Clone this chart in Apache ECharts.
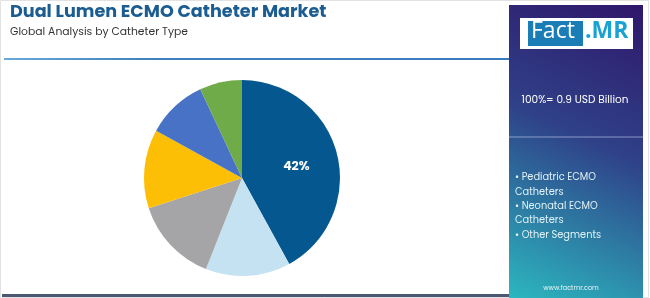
<!DOCTYPE html>
<html>
<head>
<meta charset="utf-8">
<script src="https://cdn.jsdelivr.net/npm/echarts@6/dist/echarts.min.js"></script>
<style>
html,body{margin:0;padding:0;background:#fff;}
#c{width:650px;height:298px;}
</style>
</head>
<body>
<div id="c"></div>
<script>
const categories = ['Adult ECMO Catheters', 'Pediatric ECMO Catheters', 'Neonatal ECMO Catheters', 'Segment 4', 'Segment 5', 'Other Segments'];
const shares = [42, 14, 14, 13, 10, 7];
const sliceColors = ['#04588f', '#c5e2f3', '#a5a5a7', '#fdbf05', '#4772c5', '#6fab48'];
const legendItems = ['• Pediatric ECMO', 'Catheters', '• Neonatal ECMO', 'Catheters', '• Other Segments'];
const titleText = 'Dual Lumen ECMO Catheter Market';
const subtitleText = 'Global Analysis by Catheter Type';
const totalText = '100%= 0.9 USD Billion';

const chart = echarts.init(document.getElementById('c'), null, {renderer: 'canvas'});
const font = 'Poppins, "Open Sans", "Noto Sans", sans-serif';

const legendGraphics = legendItems.map((t, i) => ({
  type: 'text', left: 515, top: 173 + i * 14.3,
  style: {text: t, fill: '#dff1f6', font: '9.8px ' + font}
}));

chart.setOption({
  animation: false,
  backgroundColor: '#fff',
  graphic: [
    {type: 'rect', shape: {x: 0.5, y: 0.5, width: 648, height: 297}, style: {fill: 'none', stroke: '#e2e2e2', lineWidth: 1}},
    {type: 'text', left: 10, top: 4, style: {text: titleText, fill: '#1b5c91', font: 'bold 17.6px ' + font}},
    {type: 'text', left: 10, top: 27, style: {text: subtitleText, fill: '#333', font: '10.8px ' + font}},
    {type: 'rect', shape: {x: 4, y: 58, width: 506, height: 2},
      style: {fill: new echarts.graphic.LinearGradient(0, 0, 1, 0, [{offset: 0, color: '#6aa8d8'}, {offset: 0.3, color: '#3f80bd'}, {offset: 1, color: '#3a7cc0'}])}},
    {type: 'rect', shape: {x: 2, y: 294, width: 507, height: 3}, style: {fill: '#4b5872'}},
    {type: 'rect', shape: {x: 509, y: 5, width: 134, height: 293},
      style: {fill: new echarts.graphic.LinearGradient(1, 0, 0, 1, [{offset: 0, color: '#2f176a'}, {offset: 0.45, color: '#2f4188'}, {offset: 1, color: '#2cb7bf'}])}},
    {type: 'rect', shape: {x: 509, y: 136.5, width: 134, height: 1}, style: {fill: 'rgba(200,210,240,0.6)'}},
    {type: 'rect', shape: {x: 520, y: 18, width: 113, height: 31}, style: {fill: '#fff'}},
    {type: 'rect', shape: {x: 528, y: 21, width: 55, height: 25}, style: {fill: '#1a7db6'}},
    {type: 'text', left: 531, top: 20, style: {text: 'Fact', fill: '#fff', font: '23px "Open Sans", sans-serif'}},
    {type: 'text', left: 585, top: 20, style: {text: '.MR', fill: '#1aa2d3', font: 'bold 23px "Open Sans", sans-serif'}},
    {type: 'text', x: 575, y: 100, style: {text: totalText, fill: '#fff', font: '10.5px ' + font, textAlign: 'center', textVerticalAlign: 'middle'}},
    ...legendGraphics,
    {type: 'text', x: 571, y: 288, style: {text: 'www.factmr.com', fill: '#e6f4f8', font: '6.5px ' + font, textAlign: 'center', textVerticalAlign: 'middle'}}
  ],
  series: [{
    type: 'pie',
    center: [242, 178],
    radius: [0, 98],
    startAngle: 90,
    clockwise: true,
    silent: true,
    itemStyle: {borderWidth: 0},
    label: {show: false},
    labelLine: {show: false},
    data: categories.map((n, i) => ({
      name: n, value: shares[i],
      itemStyle: {color: sliceColors[i]},
      label: i === 0 ? {show: true, position: 'inside', formatter: '{d}%', color: '#fff', fontWeight: 'bold', fontSize: 12.5, fontFamily: font, offset: [4, 2]} : {show: false}
    }))
  }]
});
</script>
</body>
</html>
